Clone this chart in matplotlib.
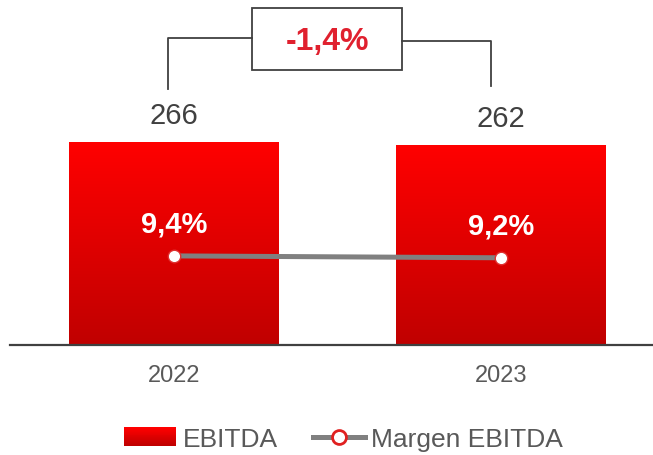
import numpy as np
import matplotlib
matplotlib.use("Agg")
import matplotlib.pyplot as plt
from matplotlib.colors import LinearSegmentedColormap
from matplotlib.patches import Rectangle
from matplotlib.lines import Line2D
from matplotlib.legend_handler import HandlerBase

plt.rcParams['font.family'] = ['Liberation Sans', 'DejaVu Sans']

# Data
years = ["2022", "2023"]
ebitda = [266, 262]
margin = [9.4, 9.2]
margin_labels = ["9,4%", "9,2%"]
change_label = "-1,4%"

RED_TOP = "#ff0000"
RED_BOTTOM = "#c00000"
GREY_TEXT = "#595959"
DARK_TEXT = "#404040"
LINE_GREY = "#808080"
LABEL_RED = "#e0202e"

cmap = LinearSegmentedColormap.from_list("redgrad", [RED_BOTTOM, RED_TOP])

W, H = 653, 456
fig = plt.figure(figsize=(W / 100, H / 100), dpi=100)

# main axes: x from 10px to right edge, axis line at y=346px
ax = fig.add_axes([10 / W, (H - 346) / H, (W - 10) / W, 346 / H])
x = np.arange(len(years))
bar_w = 0.642
bars = ax.bar(x, ebitda, width=bar_w, color="none", edgecolor="none", zorder=2)

grad = np.linspace(1, 0, 256).reshape(-1, 1)
for b in bars:
    im = ax.imshow(grad, extent=[b.get_x(), b.get_x() + b.get_width(), 0, b.get_height()],
                   aspect="auto", cmap=cmap, zorder=2)
    im.set_clip_path(b)

ax.set_xlim(-0.5015, 1.4648)
ax.set_ylim(0, 453.4)

for xi, v in zip(x, ebitda):
    ax.annotate(str(v), (xi, v), xytext=(0, 19.5), textcoords="offset points",
                ha="center", va="center", fontsize=21, color=DARK_TEXT)

for s in ["top", "right", "left"]:
    ax.spines[s].set_visible(False)
ax.spines["bottom"].set_color(DARK_TEXT)
ax.spines["bottom"].set_linewidth(1.6)
ax.set_yticks([])
ax.set_xticks(x)
ax.set_xticklabels(years, fontsize=17, color=GREY_TEXT)
ax.tick_params(axis="x", length=0, pad=14)

# bracket with change box
ax.plot([-0.018, -0.018, 0.2385], [335, 402, 402], color=DARK_TEXT, lw=1.3, clip_on=False, zorder=3)
ax.plot([0.697, 0.97, 0.97], [397.9, 397.9, 339.4], color=DARK_TEXT, lw=1.3, clip_on=False, zorder=3)
ax.add_patch(Rectangle((0.2385, 360.3), 0.697 - 0.2385, 441.2 - 360.3, fill=False,
                       edgecolor=DARK_TEXT, lw=1.3, clip_on=False, zorder=3))
ax.text(0.468, 399, change_label, ha="center", va="center", fontsize=23,
        fontweight="bold", color=LABEL_RED, zorder=4)

# margin line on secondary axis
ax2 = ax.twinx()
ax2.set_ylim(0, 36.5)
ax2.plot(x, margin, color=LINE_GREY, lw=3.6, marker="o", markersize=9,
         markerfacecolor="white", markeredgecolor="#e03030", markeredgewidth=1, zorder=5)
for xi, v, lab in zip(x, margin, margin_labels):
    ax2.annotate(lab, (xi, v), xytext=(0, 23.5), textcoords="offset points",
                 ha="center", va="center", fontsize=21, fontweight="bold", color="white")
ax2.set_yticks([])
for s in ax2.spines.values():
    s.set_visible(False)


class GradientHandler(HandlerBase):
    def create_artists(self, legend, orig_handle, xdescent, ydescent, width, height, fontsize, trans):
        n = 20
        h = height * 1.0
        y0 = -ydescent + (height - h) / 2
        arts = []
        for i in range(n):
            c = cmap(1 - i / (n - 1))
            r = Rectangle((-xdescent, y0 + h - (i + 1) * h / n), width, h / n + 0.3,
                          facecolor=c, edgecolor="none", transform=trans)
            arts.append(r)
        return arts


bar_handle = Rectangle((0, 0), 1, 1)
line_handle = Line2D([0], [0], color=LINE_GREY, lw=3.6, marker="o", markersize=10,
                     markerfacecolor="white", markeredgecolor="#e02020", markeredgewidth=2)
fig.legend([bar_handle, line_handle], ["EBITDA", "Margen EBITDA"],
           handler_map={Rectangle: GradientHandler()},
           loc="center", bbox_to_anchor=(343.5 / W, 1 - 440 / H), ncol=2, frameon=False,
           fontsize=19, labelcolor=GREY_TEXT, handlelength=1.97, handletextpad=0.23,
           columnspacing=1.33, borderpad=0)

fig.savefig("out.png", dpi=100)
